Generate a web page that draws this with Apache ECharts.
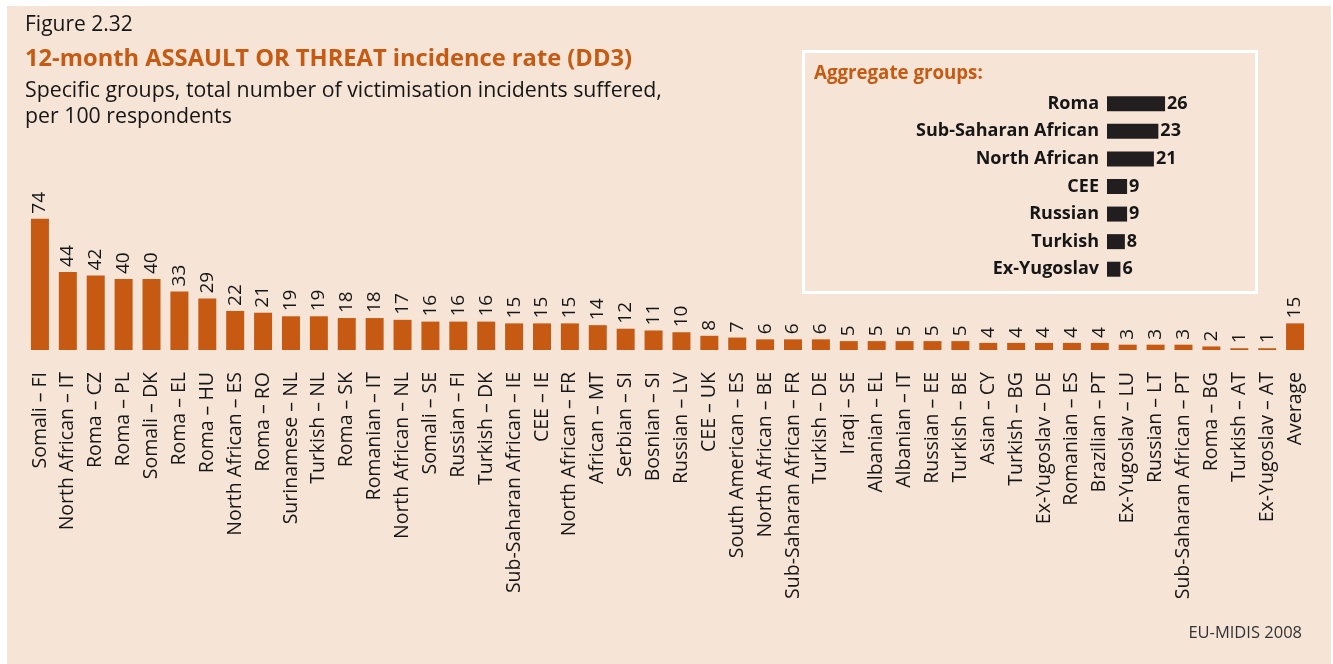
<!DOCTYPE html>
<html>
<head>
<meta charset="utf-8">
<script src="https://cdn.jsdelivr.net/npm/echarts@6/dist/echarts.min.js"></script>
<style>
  html, body { margin: 0; padding: 0; background: #ffffff; }
  #chart { width: 1333px; height: 664px; }
</style>
</head>
<body>
<div id="chart"></div>
<script>
// Specific groups, incidents per 100 respondents
const groups = [
  'Somali – FI', 'North African – IT', 'Roma – CZ', 'Roma – PL', 'Somali – DK',
  'Roma – EL', 'Roma – HU', 'North African – ES', 'Roma – RO', 'Surinamese – NL',
  'Turkish – NL', 'Roma – SK', 'Romanian – IT', 'North African – NL', 'Somali – SE',
  'Russian – FI', 'Turkish – DK', 'Sub-Saharan African – IE', 'CEE – IE', 'North African – FR',
  'African – MT', 'Serbian – SI', 'Bosnian – SI', 'Russian – LV', 'CEE – UK',
  'South American – ES', 'North African – BE', 'Sub-Saharan African – FR', 'Turkish – DE', 'Iraqi – SE',
  'Albanian – EL', 'Albanian – IT', 'Russian – EE', 'Turkish – BE', 'Asian – CY',
  'Turkish – BG', 'Ex-Yugoslav – DE', 'Romanian – ES', 'Brazilian – PT', 'Ex-Yugoslav – LU',
  'Russian – LT', 'Sub-Saharan African – PT', 'Roma – BG', 'Turkish – AT', 'Ex-Yugoslav – AT',
  'Average'
];
const groupRates = [
  74, 44, 42, 40, 40,
  33, 29, 22, 21, 19,
  19, 18, 18, 17, 16,
  16, 16, 15, 15, 15,
  14, 12, 11, 10, 8,
  7, 6, 6, 6, 5,
  5, 5, 5, 5, 4,
  4, 4, 4, 4, 3,
  3, 3, 2, 1, 1,
  15
];

// Aggregate groups
const aggregateGroups = ['Roma', 'Sub-Saharan African', 'North African', 'CEE', 'Russian', 'Turkish', 'Ex-Yugoslav'];
const aggregateRates = [26, 23, 21, 9, 9, 8, 6];

const FONT = '"Open Sans", "Noto Sans", sans-serif';
const ORANGE = '#C75A12';
const INK = '#161616';
const PAPER = '#F6E5D7';

const chart = echarts.init(document.getElementById('chart'), null, { renderer: 'canvas' });

chart.setOption({
  animation: false,
  backgroundColor: '#ffffff',
  graphic: [
    { type: 'rect', z: -10, silent: true,
      shape: { x: 7, y: 6, width: 1324, height: 658 },
      style: { fill: PAPER } },
    { type: 'rect', z: -5, silent: true,
      shape: { x: 803.5, y: 51.5, width: 453, height: 241 },
      style: { fill: 'none', stroke: '#ffffff', lineWidth: 3 } }
  ],
  title: [
    { text: 'Figure 2.32', left: 25, top: 15, padding: 0,
      textStyle: { fontFamily: FONT, fontSize: 21, fontWeight: 'normal', color: INK } },
    { text: '12-month ASSAULT OR THREAT incidence rate (DD3)', left: 25, top: 47, padding: 0,
      textStyle: { fontFamily: FONT, fontSize: 23.7, fontWeight: 'bold', color: ORANGE } },
    { text: 'Specific groups, total number of victimisation incidents suffered,\nper 100 respondents',
      left: 25, top: 78, padding: 0,
      textStyle: { fontFamily: FONT, fontSize: 21.3, fontWeight: 'normal', color: INK, lineHeight: 26 } },
    { text: 'Aggregate groups:', left: 814, top: 64, padding: 0,
      textStyle: { fontFamily: FONT, fontSize: 18.7, fontWeight: 'bold', color: ORANGE } },
    { text: 'EU-MIDIS 2008', right: 31, top: 625, padding: 0,
      textStyle: { fontFamily: FONT, fontSize: 16.5, fontWeight: 'normal', color: '#333333' } }
  ],
  grid: [
    { left: 26, width: 1283, top: 208, height: 142, containLabel: false },
    { left: 1107, width: 67, top: 90, height: 193, containLabel: false }
  ],
  xAxis: [
    { type: 'category', gridIndex: 0, data: groups,
      axisLine: { show: false }, axisTick: { show: false },
      axisLabel: { interval: 0, rotate: 90, margin: 22,
        fontFamily: FONT, fontSize: 19.5, color: INK } },
    { type: 'value', gridIndex: 1, min: 0, max: 30, show: false }
  ],
  yAxis: [
    { type: 'value', gridIndex: 0, min: 0, max: 80, show: false },
    { type: 'category', gridIndex: 1, data: aggregateGroups, inverse: true,
      axisLine: { show: false }, axisTick: { show: false },
      axisLabel: { margin: 8, fontFamily: FONT, fontSize: 18, fontWeight: 'bold', color: INK } }
  ],
  series: [
    { type: 'bar', xAxisIndex: 0, yAxisIndex: 0, data: groupRates, barWidth: 18,
      itemStyle: { color: ORANGE },
      label: { show: true, position: 'top', rotate: 90, align: 'left', verticalAlign: 'middle',
        distance: 5, fontFamily: FONT, fontSize: 19, color: INK } },
    { type: 'bar', xAxisIndex: 1, yAxisIndex: 1, data: aggregateRates, barWidth: 15,
      itemStyle: { color: '#221e1f' },
      label: { show: true, position: 'right', distance: 2,
        fontFamily: FONT, fontSize: 18, fontWeight: 'bold', color: INK } }
  ]
});
</script>
</body>
</html>
